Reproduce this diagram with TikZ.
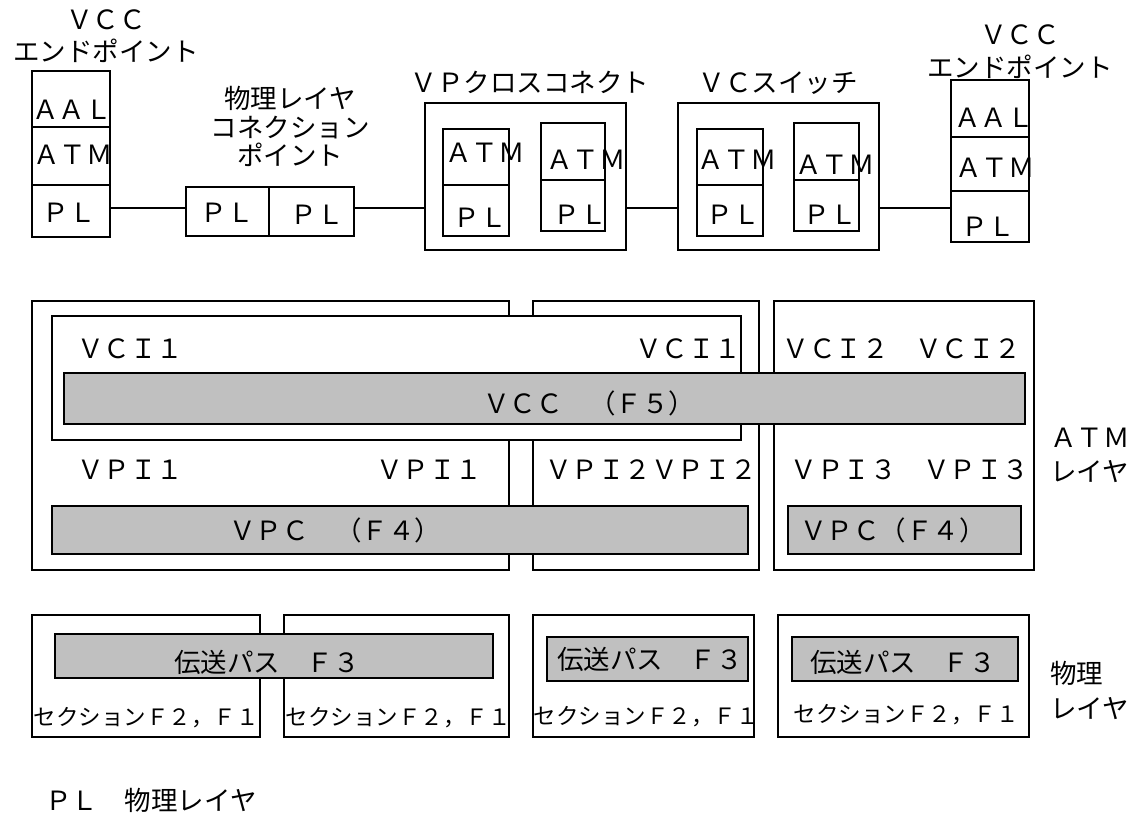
\documentclass[tikz,border=0pt]{standalone}
\usepackage{fontspec}
\setmainfont{Noto Sans CJK JP}
\usetikzlibrary{fit}
\definecolor{barfill}{RGB}{192,192,192}
\newcommand\bigjp{\fontsize{26.5}{32}\selectfont}
\newcommand\smalljp{\fontsize{22.5}{27}\selectfont}
\begin{document}
\begin{tikzpicture}[x=1pt,y=-1pt,
  box/.style={draw,line width=2.2pt,inner sep=0pt,fill=white},
  bar/.style={draw,line width=2.2pt,inner sep=0pt,fill=barfill},
  lbl/.style={inner sep=0pt,font=\bigjp},
  slbl/.style={inner sep=0pt,font=\smalljp},
  wire/.style={line width=2.2pt}]
\useasboundingbox (0,0) rectangle (1142,812);
\coordinate (wy) at (0,208);

% ---------- top row ----------
% left VCC endpoint
\node[lbl,align=center] (tEpL) at (106,36) {ＶＣＣ\\エンドポイント};
\node[box,fit={(32,71)(110,127)}] (epLaal) {};
\node[box,fit={(32,127)(110,185)}] (epLatm) {};
\node[box,fit={(32,185)(110,237)}] (epLpl) {};
\node[lbl] (tEpLaal) at (72,110) {ＡＡＬ};
\node[lbl] (tEpLatm) at (73,155) {ＡＴＭ};
\node[lbl] (tEpLpl) at (69,213) {ＰＬ};

% physical layer connection point
\node[lbl,align=center,font=\fontsize{26.5}{28.5}\selectfont] (tPcp) at (290,126.5) {物理レイヤ\\コネクション\\ポイント};
\node[box,fit={(186,187)(269,236)}] (pcp1) {};
\node[box,fit={(269,187)(354,236)}] (pcp2) {};
\node[lbl] (tPcp1) at (227,213) {ＰＬ};
\node[lbl] (tPcp2) at (317,215) {ＰＬ};

% VP cross connect
\node[lbl] (tVp) at (530,82) {ＶＰクロスコネクト};
\node[box,fit={(425,103)(626,250)}] (vp) {};
\node[box,fit={(443,129)(509,185)}] (vpa1) {};
\node[box,fit={(443,185)(509,236)}] (vpp1) {};
\node[box,fit={(541,123)(605,180)}] (vpa2) {};
\node[box,fit={(541,180)(605,231)}] (vpp2) {};
\node[lbl] (tVpa1) at (485,153) {ＡＴＭ};
\node[lbl] (tVpp1) at (480,218) {ＰＬ};
\node[lbl] (tVpa2) at (586,160) {ＡＴＭ};
\node[lbl] (tVpp2) at (580,215) {ＰＬ};

% VC switch
\node[lbl] (tVc) at (778,83) {ＶＣスイッチ};
\node[box,fit={(678,103)(879,250)}] (vc) {};
\node[box,fit={(697,129)(763,185)}] (vca1) {};
\node[box,fit={(697,185)(763,236)}] (vcp1) {};
\node[box,fit={(794,123)(859,180)}] (vca2) {};
\node[box,fit={(794,180)(859,231)}] (vcp2) {};
\node[lbl] (tVca1) at (737,160) {ＡＴＭ};
\node[lbl] (tVcp1) at (733,215) {ＰＬ};
\node[lbl] (tVca2) at (835,165) {ＡＴＭ};
\node[lbl] (tVcp2) at (830,215) {ＰＬ};

% right VCC endpoint
\node[lbl,align=center,font=\fontsize{26.5}{33}\selectfont] (tEpR) at (1020,51.5) {ＶＣＣ\\エンドポイント};
\node[box,fit={(951,80)(1029,137)}] (epRaal) {};
\node[box,fit={(951,137)(1029,191)}] (epRatm) {};
\node[box,fit={(951,191)(1029,242)}] (epRpl) {};
\node[lbl] (tEpRaal) at (994,118) {ＡＡＬ};
\node[lbl] (tEpRatm) at (995,168) {ＡＴＭ};
\node[lbl] (tEpRpl) at (988,227) {ＰＬ};

% connectors
\draw[wire] (epLpl.east |- wy) -- (pcp1.west |- wy);
\draw[wire] (pcp2.east |- wy) -- (vp.west |- wy);
\draw[wire] (vp.east |- wy) -- (vc.west |- wy);
\draw[wire] (vc.east |- wy) -- (epRpl.west |- wy);

% ---------- ATM layer ----------
\node[box,fit={(32,301)(509,570)}] (atm1) {};
\node[box,fit={(533,301)(759,570)}] (atm2) {};
\node[box,fit={(774,301)(1034,570)}] (atm3) {};
\node[box,fit={(52,316)(741,440)}] (vcibox) {};
\node[bar,fit={(64,373)(1025,424)}] (vcc) {};
\node[bar,fit={(52,506)(748,554)}] (vpc1) {};
\node[bar,fit={(788,506)(1021,554)}] (vpc3) {};

\node[lbl] (tVci1a) at (130,349) {ＶＣＩ１};
\node[lbl] (tVci1b) at (688,349) {ＶＣＩ１};
\node[lbl] (tVci2) at (902,349) {ＶＣＩ２　ＶＣＩ２};
\node[lbl] (tVcc) at (589,403) {ＶＣＣ　（Ｆ５）};
\node[lbl] (tVpi1a) at (130,470) {ＶＰＩ１};
\node[lbl] (tVpi1b) at (429,470) {ＶＰＩ１};
\node[lbl] (tVpi2) at (651,470) {ＶＰＩ２ＶＰＩ２};
\node[lbl] (tVpi3) at (910,470) {ＶＰＩ３　ＶＰＩ３};
\node[lbl] (tVpc1) at (335,530) {ＶＰＣ　（Ｆ４）};
\node[lbl] (tVpc3) at (893,530) {ＶＰＣ（Ｆ４）};
\node[lbl,align=left,anchor=west,font=\fontsize{26.5}{34}\selectfont] (tAtmLayer) at (1050,455) {ＡＴＭ\\レイヤ};

% ---------- physical layer ----------
\node[box,fit={(32,615)(260,737)}] (ph1) {};
\node[box,fit={(284,615)(509,737)}] (ph2) {};
\node[box,fit={(533,615)(754,737)}] (ph3) {};
\node[box,fit={(778,615)(1029,737)}] (ph4) {};
\node[bar,fit={(55,634)(493,678)}] (tp1) {};
\node[bar,fit={(547,637)(748,681)}] (tp3) {};
\node[bar,fit={(792,637)(1018,681)}] (tp4) {};

\node[lbl] (tTp1) at (267,662) {伝送パス　Ｆ３};
\node[lbl] (tTp3) at (650,659) {伝送パス　Ｆ３};
\node[lbl] (tTp4) at (903,662) {伝送パス　Ｆ３};
\node[slbl] (tSec1) at (146,718) {セクションＦ２，Ｆ１};
\node[slbl] (tSec2) at (398,718) {セクションＦ２，Ｆ１};
\node[slbl] (tSec3) at (646,717) {セクションＦ２，Ｆ１};
\node[slbl] (tSec4) at (906,715) {セクションＦ２，Ｆ１};
\node[lbl,align=left,anchor=west,font=\fontsize{26.5}{35}\selectfont] (tPhyLayer) at (1050,690) {物理\\レイヤ};

% legend
\node[lbl] (tLegend) at (151,800) {ＰＬ　物理レイヤ};
\end{tikzpicture}
\end{document}
